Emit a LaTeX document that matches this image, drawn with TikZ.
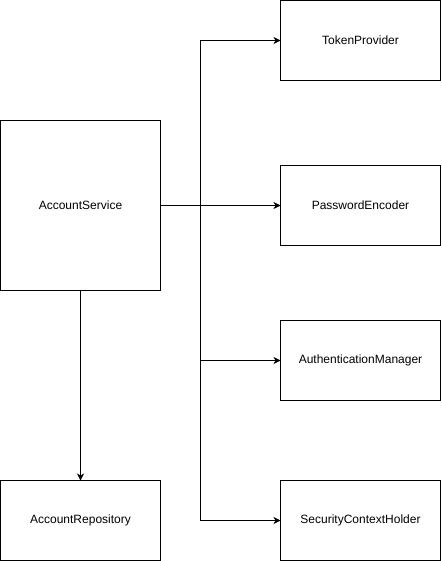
\documentclass[tikz,border=0pt]{standalone}
\usepackage{fontspec}
\setmainfont{Liberation Sans}
\usetikzlibrary{arrows.meta,positioning}
\begin{document}
\begin{tikzpicture}[x=1pt,y=-1pt,
  box/.style={draw,line width=1pt,minimum width=160pt,minimum height=80pt,inner sep=0pt,outer sep=0pt,font=\fontsize{12}{14}\selectfont,anchor=north west},
  conn/.style={line width=1pt,-{Stealth[length=7pt,width=7pt,inset=2pt]}}]
\useasboundingbox (0,0) rectangle (441,561);
\node[box] (tp) at (280.5,0.5) {TokenProvider};
\node[box] (pe) at (280.5,165.5) {PasswordEncoder};
\node[box] (am) at (280.5,320.5) {AuthenticationManager};
\node[box] (sc) at (280.5,480.5) {SecurityContextHolder};
\node[box,minimum height=170pt] (as) at (0.5,120.5) {AccountService};
\node[box] (ar) at (0.5,480.5) {AccountRepository};
\coordinate (b1) at (200.5,40.5);
\coordinate (b3) at (200.5,360.5);
\coordinate (b4) at (200.5,520.5);
\draw[conn] (as.east) -- (pe.west);
\draw[conn] (as.south) -- (ar.north);
\draw[line width=1pt] (b1) -- (b4);
\draw[conn] (b1) -- (tp.west);
\draw[conn] (b3) -- (am.west);
\draw[conn] (b4) -- (sc.west);
\end{tikzpicture}
\end{document}
